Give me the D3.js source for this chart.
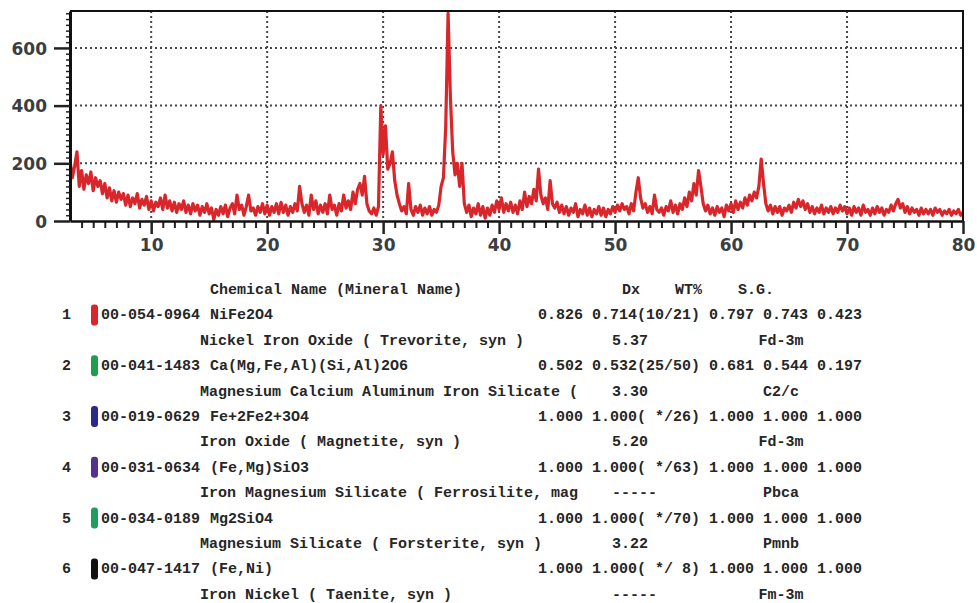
<!DOCTYPE html>
<html>
<head>
<meta charset="utf-8">
<title>XRD pattern</title>
<style>
  body { margin: 0; background: #fff; }
  .tbl text { font-family: "Liberation Mono", "Courier New", monospace; font-weight: bold; font-size: 15px; fill: #262626; white-space: pre; }
  .tick text { font-family: "DejaVu Sans", Verdana, sans-serif; font-weight: bold; font-size: 17px; fill: #3a3d42; }
</style>
</head>
<body>
<div id="chart"></div>
<script src="https://cdn.jsdelivr.net/npm/d3@7"></script>
<script>
// scan: 2-theta from 3 to 80 deg, step 0.2 deg
var twoThetaStart = 3, twoThetaStep = 0.2;
var intensity = [
  210,150,190,240,120,  175,110,160,130,170,  105,150,120,140,95,   130,80,115,70,105,
  65,100,75,95,55,      90,50,80,60,95,       45,75,55,85,40,       70,35,65,50,80,
  40,90,45,70,35,       65,30,60,40,70,       30,55,25,60,35,       55,20,50,30,60,
  25,45,5,40,20,        50,25,55,15,45,       60,25,90,40,55,       20,50,90,35,45,
  20,50,30,60,25,       55,20,50,30,60,       25,65,30,55,20,       50,30,60,35,120,
  60,30,55,20,90,       40,70,25,55,30,       60,25,90,40,55,       20,60,35,90,45,
  70,40,100,60,110,     130,90,155,60,35,     25,45,20,50,400,      230,330,180,200,240,
  140,90,60,35,50,      25,130,40,20,50,      30,55,20,45,25,       50,20,40,30,55,
  120,150,330,720,430,  240,160,200,120,200,  60,30,55,15,45,       25,60,20,50,10,
  45,20,55,30,70,       40,80,30,60,35,       65,30,55,25,70,       40,100,50,85,60,
  110,70,180,90,60,     80,40,140,60,45,      65,30,55,25,50,       20,45,30,60,15,
  40,25,55,20,45,       15,40,25,50,20,       45,15,40,25,50,       30,55,35,60,40,
  50,25,60,35,100,      150,80,45,60,30,      50,25,90,40,30,       45,20,50,35,70,
  30,55,25,60,40,       80,50,100,70,130,     90,175,120,60,35,     55,25,45,20,50,
  30,45,15,55,35,       60,30,70,40,65,       45,80,55,90,70,       100,80,120,215,130,
  60,35,55,25,50,       30,50,20,45,35,       55,30,65,45,75,       50,70,40,60,30,
  50,25,45,30,55,       25,45,30,50,25,       45,30,55,35,50,       25,45,20,50,30,
  45,20,55,30,40,       20,45,25,50,30,       45,20,40,30,55,       35,60,75,45,60,
  30,50,25,45,30,       40,20,45,25,40,       25,40,20,45,30,       40,20,35,25,40,
  20,35,25,40,20,       30
];
var xTicks = [10, 20, 30, 40, 50, 60, 70, 80];
var yTicks = [0, 200, 400, 600];

// phase identification table
var phaseNumbers = ["1", "2", "3", "4", "5", "6"];
var phaseColors = ["#d8262b", "#1f9e4c", "#2c2a86", "#55308c", "#1f9e62", "#111111"];
var pdfCodes = ["00-054-0964", "00-041-1483", "00-019-0629", "00-031-0634", "00-034-0189", "00-047-1417"];
var formulas = ["NiFe2O4", "Ca(Mg,Fe,Al)(Si,Al)2O6", "Fe+2Fe2+3O4", "(Fe,Mg)SiO3", "Mg2SiO4", "(Fe,Ni)"];
var chemicalNames = [
  "Nickel Iron Oxide ( Trevorite, syn )",
  "Magnesium Calcium Aluminum Iron Silicate (",
  "Iron Oxide ( Magnetite, syn )",
  "Iron Magnesium Silicate ( Ferrosilite, mag",
  "Magnesium Silicate ( Forsterite, syn )",
  "Iron Nickel ( Taenite, syn )"
];
var scoreLines = [
  "0.826 0.714(10/21) 0.797 0.743 0.423",
  "0.502 0.532(25/50) 0.681 0.544 0.197",
  "1.000 1.000( */26) 1.000 1.000 1.000",
  "1.000 1.000( */63) 1.000 1.000 1.000",
  "1.000 1.000( */70) 1.000 1.000 1.000",
  "1.000 1.000( */ 8) 1.000 1.000 1.000"
];
var densities = ["5.37", "3.30", "5.20", "-----", "3.22", "-----"];
var spaceGroups = ["Fd-3m", "C2/c", "Fd-3m", "Pbca", "Pmnb", "Fm-3m"];

var W = 977, H = 603;
var svg = d3.select("#chart").append("svg").attr("width", W).attr("height", H);

var x = d3.scaleLinear().domain([3, 80]).range([70, 963]);
var y = d3.scaleLinear().domain([0, 728]).range([221, 11]);

var pts = intensity.map(function(v, i) { return [twoThetaStart + i * twoThetaStep, v]; });

// grid
var grid = svg.append("g").attr("stroke", "#44474c").attr("stroke-width", 2).attr("stroke-dasharray", "2,3");
grid.selectAll("line.v").data(xTicks.slice(0, -1)).enter().append("line")
  .attr("x1", function(d) { return x(d); }).attr("x2", function(d) { return x(d); })
  .attr("y1", y.range()[1]).attr("y2", y(0));
grid.selectAll("line.h").data(yTicks.slice(1)).enter().append("line")
  .attr("x1", x(3)).attr("x2", x(80))
  .attr("y1", function(d) { return y(d); }).attr("y2", function(d) { return y(d); });

// pattern
svg.append("clipPath").attr("id", "clip").append("rect")
  .attr("x", x(3)).attr("y", y.range()[1]).attr("width", x(80) - x(3)).attr("height", y(0) - y.range()[1]);
svg.append("path").datum(pts)
  .attr("clip-path", "url(#clip)")
  .attr("fill", "none").attr("stroke", "#d8262b").attr("stroke-width", 3.2).attr("stroke-linejoin", "round")
  .attr("d", d3.line().x(function(d) { return x(d[0]); }).y(function(d) { return y(d[1]); }));

// frame top / right
svg.append("path").attr("fill", "none").attr("stroke", "#111").attr("stroke-width", 2)
  .attr("d", "M" + x(3) + "," + y.range()[1] + "H" + x(80) + "V" + y(0));

// minor ticks
var minorX = d3.range(4, 80, 1).filter(function(d) { return d % 10 !== 0; });
svg.append("g").attr("transform", "translate(0," + y(0) + ")")
  .call(d3.axisBottom(x).tickValues(minorX).tickSize(7).tickFormat(""))
  .call(function(g) { g.select(".domain").remove(); g.selectAll("line").attr("stroke", "#222").attr("stroke-width", 2); });
var minorY = d3.range(20, 728, 20).filter(function(d) { return d % 200 !== 0; });
svg.append("g").attr("transform", "translate(" + x(3) + ",0)")
  .call(d3.axisLeft(y).tickValues(minorY).tickSize(4).tickFormat(""))
  .call(function(g) { g.select(".domain").remove(); g.selectAll("line").attr("stroke", "#222").attr("stroke-width", 1.5); });

// major axes
svg.append("g").attr("transform", "translate(0," + y(0) + ")")
  .call(d3.axisBottom(x).tickValues(xTicks).tickSize(13).tickPadding(5).tickSizeOuter(0))
  .call(function(g) {
    g.select(".domain").attr("stroke", "#111").attr("stroke-width", 2.5);
    g.selectAll("line").attr("stroke", "#222").attr("stroke-width", 2.5);
  });
svg.append("g").attr("transform", "translate(" + x(3) + ",0)")
  .call(d3.axisLeft(y).tickValues(yTicks).tickSize(16).tickPadding(7).tickSizeOuter(0))
  .call(function(g) {
    g.select(".domain").attr("stroke", "#111").attr("stroke-width", 3);
    g.selectAll("line").attr("stroke", "#222").attr("stroke-width", 2.5);
    g.selectAll("text").attr("dy", "0.36em");
  });

// table
var tbl = svg.append("g").attr("class", "tbl");
var lineY = function(k) { return 294 + k * 25.4; };
tbl.append("text").attr("x", 210).attr("y", lineY(0)).text("Chemical Name (Mineral Name)");
tbl.append("text").attr("x", 622).attr("y", lineY(0)).text("Dx");
tbl.append("text").attr("x", 675).attr("y", lineY(0)).text("WT%");
tbl.append("text").attr("x", 738).attr("y", lineY(0)).text("S.G.");

var rows = tbl.selectAll("g.row").data(phaseNumbers).enter().append("g").attr("class", "row");
rows.append("text").attr("x", 62).attr("y", function(d, i) { return lineY(1 + 2 * i); }).text(function(d) { return d; });
rows.append("rect").attr("x", 91).attr("width", 7).attr("height", 21).attr("rx", 3)
  .attr("y", function(d, i) { return lineY(1 + 2 * i) - 15; })
  .attr("fill", function(d, i) { return phaseColors[i]; });
rows.append("text").attr("x", 101).attr("y", function(d, i) { return lineY(1 + 2 * i); }).text(function(d, i) { return pdfCodes[i]; });
rows.append("text").attr("x", 210).attr("y", function(d, i) { return lineY(1 + 2 * i); }).text(function(d, i) { return formulas[i]; });
rows.append("text").attr("x", 538).attr("y", function(d, i) { return lineY(1 + 2 * i); }).text(function(d, i) { return scoreLines[i]; });
rows.append("text").attr("x", 200).attr("y", function(d, i) { return lineY(2 + 2 * i); }).text(function(d, i) { return chemicalNames[i]; });
rows.append("text").attr("x", 612).attr("y", function(d, i) { return lineY(2 + 2 * i); }).text(function(d, i) { return densities[i]; });
rows.append("text").attr("x", 781).attr("y", function(d, i) { return lineY(2 + 2 * i); }).attr("text-anchor", "middle").text(function(d, i) { return spaceGroups[i]; });
</script>
</body>
</html>
